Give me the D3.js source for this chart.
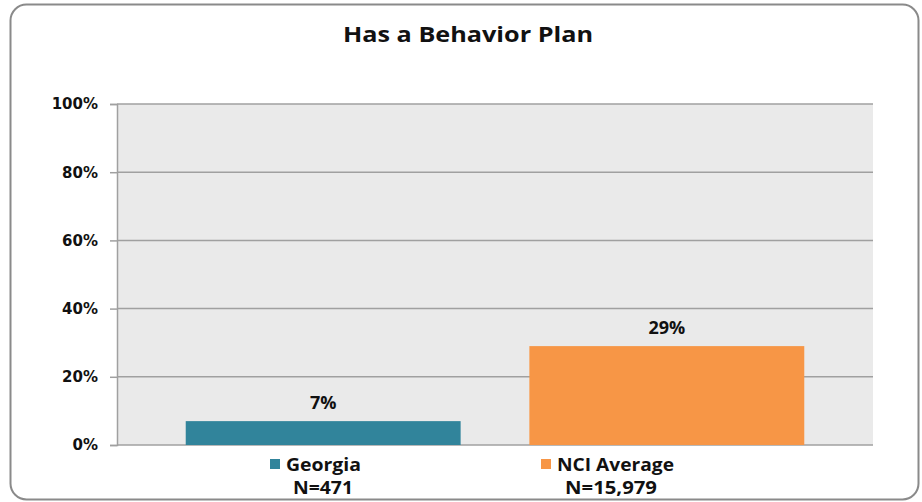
<!DOCTYPE html>
<html><head><meta charset="utf-8">
<script src="https://cdn.jsdelivr.net/npm/d3@7"></script>
<style>html,body{margin:0;padding:0;background:#fff;}svg{display:block;}</style>
</head><body>
<svg id="c" width="922" height="502"></svg>
<script>
const title = "Has a Behavior Plan";
const categories = ["Georgia", "NCI Average"];
const nLabels = ["N=471", "N=15,979"];
const values = [7, 29];
const valueLabels = ["7%", "29%"];
const colors = ["#31849B", "#F79646"];
const yTicks = [0, 20, 40, 60, 80, 100];

const svg = d3.select("#c");
const m = {left: 117, right: 873, top: 104, bottom: 445};
const FONT = "'Open Sans', Lato, sans-serif";

svg.append("rect").attr("x", 10.5).attr("y", 4.5).attr("width", 908).attr("height", 495)
  .attr("rx", 16).attr("fill", "#fff").attr("stroke", "#8a8a8a").attr("stroke-width", 2);

svg.append("text").attr("x", 468).attr("y", 42).attr("text-anchor", "middle")
  .attr("font-family", FONT).attr("font-weight", "bold")
  .attr("font-size", 22).attr("textLength", 250).attr("lengthAdjust", "spacingAndGlyphs")
  .attr("fill", "#111").text(title);

const x = d3.scaleBand().domain(categories).range([m.left, m.right]).paddingInner(0.2).paddingOuter(0.2);
const y = d3.scaleLinear().domain([0, 100]).range([m.bottom, m.top]);

svg.append("rect").attr("x", m.left).attr("y", m.top).attr("width", m.right - m.left)
  .attr("height", m.bottom - m.top).attr("fill", "#EAEAEA");

const yAxis = d3.axisLeft(y).tickValues(yTicks).tickFormat(d => d + "%").tickSize(7).tickPadding(12);
const ga = svg.append("g").attr("transform", `translate(${m.left},0)`).call(yAxis);
ga.select(".domain").attr("stroke", "#a0a0a0").attr("stroke-width", 1.5);
ga.selectAll(".tick line").attr("stroke", "#a0a0a0").attr("stroke-width", 1.5);
ga.selectAll(".tick text").attr("font-family", "'DejaVu Sans', sans-serif").attr("font-weight", "bold")
  .attr("font-size", 15).attr("fill", "#111");

svg.append("g").selectAll("line").data(yTicks).join("line")
  .attr("x1", m.left).attr("x2", m.right).attr("y1", d => y(d)).attr("y2", d => y(d))
  .attr("stroke", "#a0a0a0").attr("stroke-width", 1.5);

svg.append("g").selectAll("rect").data(values).join("rect")
  .attr("x", (d, i) => x(categories[i])).attr("width", x.bandwidth())
  .attr("y", d => y(d)).attr("height", d => y(0) - y(d))
  .attr("fill", (d, i) => colors[i]);

svg.append("g").selectAll("text").data(values).join("text")
  .attr("x", (d, i) => x(categories[i]) + x.bandwidth() / 2).attr("y", d => y(d) - 12)
  .attr("text-anchor", "middle").attr("font-family", FONT).attr("font-weight", "bold")
  .attr("font-size", 18).attr("fill", "#111").text((d, i) => valueLabels[i]);

const legX = [270, 541];
const legW = [75, 117];
const nX = [53, 70];
const nW = [60, 92];
const leg = svg.append("g").selectAll("g").data(categories).join("g")
  .attr("transform", (d, i) => `translate(${legX[i]},0)`);
leg.append("rect").attr("x", 0).attr("y", 459).attr("width", 10).attr("height", 10)
  .attr("fill", (d, i) => colors[i]);
leg.append("text").attr("x", 16).attr("y", 471).attr("font-family", FONT)
  .attr("font-weight", "bold").attr("font-size", 18).attr("fill", "#111")
  .attr("textLength", (d, i) => legW[i]).attr("lengthAdjust", "spacingAndGlyphs").text(d => d);
leg.append("text").attr("x", (d, i) => nX[i]).attr("y", 494).attr("text-anchor", "middle")
  .attr("font-family", FONT).attr("font-weight", "bold").attr("font-size", 18)
  .attr("textLength", (d, i) => nW[i]).attr("lengthAdjust", "spacingAndGlyphs")
  .attr("fill", "#111").text((d, i) => nLabels[i]);
</script>
</body></html>
